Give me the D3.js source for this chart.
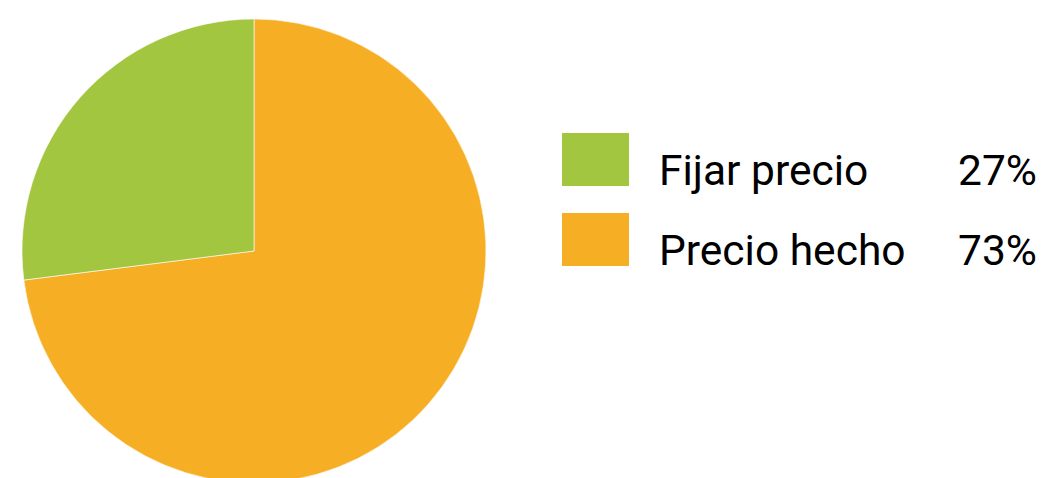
<!DOCTYPE html>
<html>
<head>
<meta charset="utf-8">
<script src="https://cdn.jsdelivr.net/npm/d3@7"></script>
<style>
  html, body { margin: 0; padding: 0; background: #fff; }
  svg { display: block; font-family: Roboto, "Noto Sans", sans-serif; }
</style>
</head>
<body>
<svg id="chart" width="1045" height="478"></svg>
<script>
const categories = ["Fijar precio", "Precio hecho"];
const values = [27, 73];
const colors = ["#A3C641", "#F6AE24"];
const percentLabels = ["27%", "73%"];

const svg = d3.select("#chart");
const cx = 254, cy = 251, radius = 232;

// Orange slice starts at 12 o'clock and runs clockwise; green fills the rest.
const order = [1, 0];
const pie = d3.pie().sort(null).value(i => values[i]);
const arcs = pie(order);
const arc = d3.arc().innerRadius(0).outerRadius(radius);

svg.append("g")
  .attr("transform", `translate(${cx},${cy})`)
  .selectAll("path")
  .data(arcs)
  .join("path")
  .attr("d", arc)
  .attr("fill", d => colors[d.data])
  .attr("stroke", "#fff")
  .attr("stroke-width", 0.6);

// Legend rows
const rowStep = 80;
const legend = svg.append("g");
const rows = legend.selectAll("g")
  .data(categories)
  .join("g")
  .attr("transform", (d, i) => `translate(0,${133 + i * rowStep})`);

rows.append("rect")
  .attr("x", 562).attr("y", 0)
  .attr("width", 67).attr("height", 53)
  .attr("fill", (d, i) => colors[i]);

rows.append("text")
  .attr("x", 659).attr("y", 52)
  .attr("font-size", 42.5)
  .attr("fill", "#000")
  .text(d => d);

rows.append("text")
  .attr("x", 1037).attr("y", 52)
  .attr("text-anchor", "end")
  .attr("font-size", 42.5)
  .attr("fill", "#000")
  .text((d, i) => percentLabels[i]);
</script>
</body>
</html>
